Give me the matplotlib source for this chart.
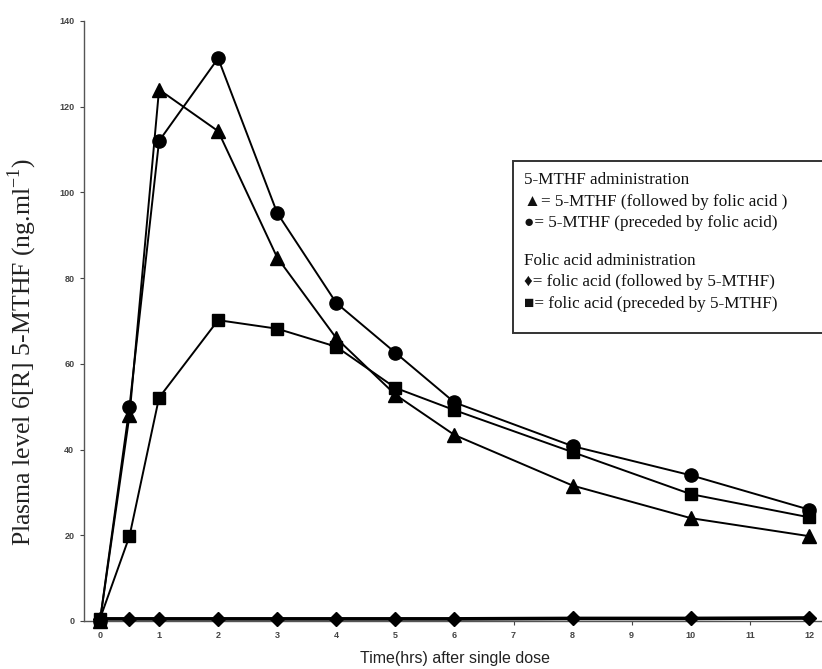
import matplotlib
matplotlib.use("Agg")
import matplotlib.pyplot as plt
from matplotlib.patches import Rectangle

# Data
time_hrs = [0, 0.5, 1, 2, 3, 4, 5, 6, 8, 10, 12]
mthf_followed = [0, 48, 124, 114.3, 84.8, 66, 52.8, 43.4, 31.6, 24, 19.8]
mthf_preceded = [0, 50, 112, 131.3, 95.2, 74.2, 62.6, 51, 40.8, 34, 26]
folic_followed = [0.5, 0.5, 0.5, 0.5, 0.5, 0.5, 0.5, 0.5, 0.6, 0.6, 0.7]
folic_preceded = [0.5, 19.8, 52.1, 70.2, 68.2, 64, 54.4, 49.2, 39.4, 29.6, 24.2]
x_ticks = [0, 1, 2, 3, 4, 5, 6, 7, 8, 9, 10, 11, 12]
y_ticks = [0, 20, 40, 60, 80, 100, 120, 140]

W, H = 822, 669
fig = plt.figure(figsize=(W / 100, H / 100), dpi=100)
ax = fig.add_axes([84 / W, 1 - 621 / H, 738 / W, 600 / H])

lw = 1.4
ms = 9
ax.plot(time_hrs, folic_followed, color='black', lw=2.6, marker='D', ms=7.5, clip_on=False, zorder=3)
ax.plot(time_hrs, folic_preceded, color='black', lw=lw, marker='s', ms=ms, clip_on=False, zorder=4)
ax.plot(time_hrs, mthf_preceded, color='black', lw=lw, marker='o', ms=ms + 0.5, clip_on=False, zorder=4)
ax.plot(time_hrs, mthf_followed, color='black', lw=lw, marker='^', ms=ms + 0.5, clip_on=False, zorder=5)

ax.set_xlim(-0.27, 12.22)
ax.set_ylim(0, 140)
ax.set_xticks(x_ticks)
ax.set_yticks(y_ticks)
tick_font = dict(family='Liberation Sans', size=6.5, color='#333333', weight='bold')
ax.set_xticklabels([str(t) for t in x_ticks], **tick_font)
ax.set_yticklabels([str(t) for t in y_ticks], **tick_font)
ax.tick_params(direction='out', length=3, width=0.8, colors='#444444', pad=4)
for s in ['top', 'right']:
    ax.spines[s].set_visible(False)
ax.spines['left'].set_color('#555555')
ax.spines['left'].set_linewidth(1.0)
ax.spines['bottom'].set_color('#555555')
ax.spines['bottom'].set_linewidth(1.0)

fig.text(455 / W, 1 - 659 / H, 'Time(hrs) after single dose', ha='center', va='center',
         family='Liberation Sans', fontsize=11.5, color='#222222')
fig.text(22 / W, 1 - 352 / H, 'Plasma level 6[R] 5-MTHF (ng.ml$^{\\mathregular{-1}}$)', ha='center', va='center',
         rotation=90, family='Liberation Serif', fontsize=18.5, color='#222222')

# Legend box
rect = Rectangle((513 / W, 1 - 333 / H), 330 / W, 172 / H, transform=fig.transFigure,
                 facecolor='white', edgecolor='#333333', lw=1.4, zorder=10, clip_on=False)
fig.patches.append(rect)
lx = 524 / W
lines = [
    (180, '5-MTHF administration'),
    (202, '\u25B2= 5-MTHF (followed by folic acid )'),
    (223, '\u25CF= 5-MTHF (preceded by folic acid)'),
    (261, 'Folic acid administration'),
    (282, '\u2666= folic acid (followed by 5-MTHF)'),
    (304, '\u25A0= folic acid (preceded by 5-MTHF)'),
]
for y, t in lines:
    fig.text(lx, 1 - y / H, t, ha='left', va='center', family=['Liberation Serif', 'DejaVu Sans'],
             fontsize=12.3, color='#111111', zorder=11)

fig.savefig('out.png', dpi=100)
